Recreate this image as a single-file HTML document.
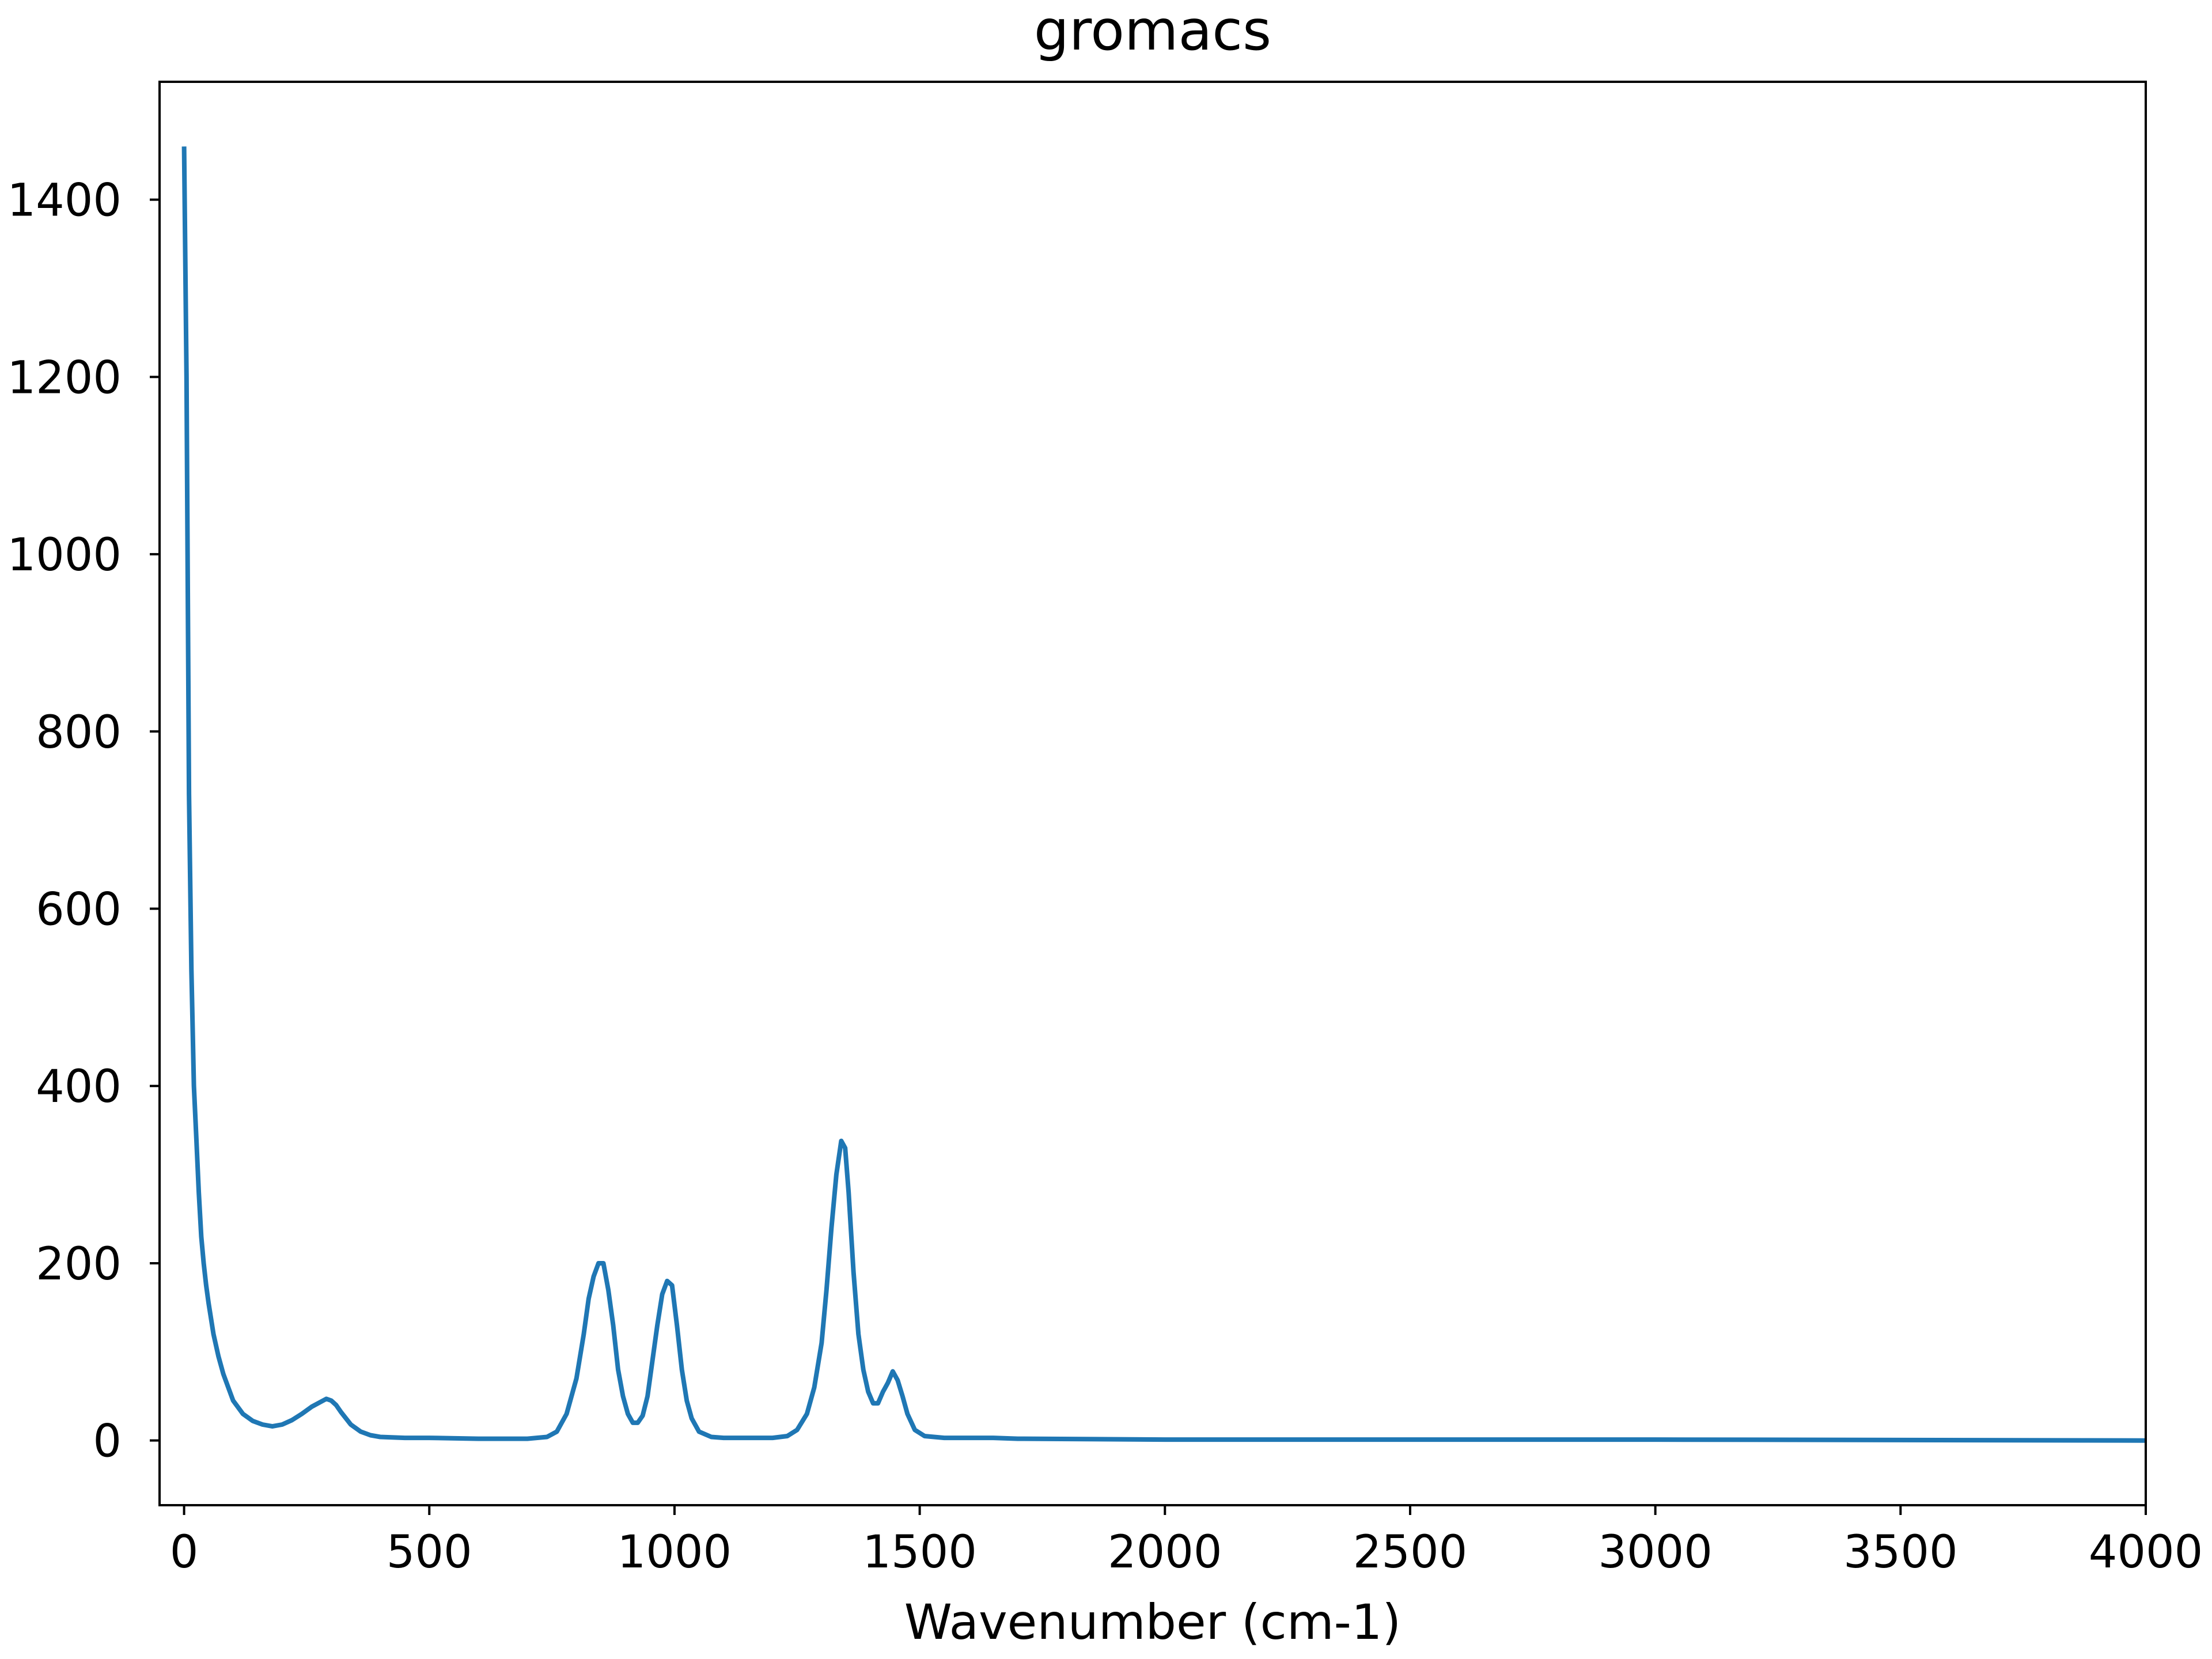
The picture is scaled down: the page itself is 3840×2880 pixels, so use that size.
<!DOCTYPE html>
<html><head><meta charset="utf-8"><style>
html,body{margin:0;padding:0;background:#fff}
svg{display:block}
text{font-family:"DejaVu Sans","Liberation Sans",sans-serif;fill:#000}
</style></head><body>
<svg id="chart" width="3840" height="2880" viewBox="0 0 3840 2880" xmlns="http://www.w3.org/2000/svg">
<rect x="0" y="0" width="3840" height="2880" fill="#fff"/>
<text x="2001" y="86" font-size="96" text-anchor="middle">gromacs</text>
<g id="xt"></g>
<g id="yt"></g>
<path id="line" fill="none" stroke="#1f77b4" stroke-width="8" stroke-linejoin="round"/>
<rect x="277" y="142" width="3448" height="2471" fill="none" stroke="#000" stroke-width="4"/>
<text x="2001" y="2845" font-size="84" text-anchor="middle">Wavenumber (cm-1)</text>
</svg>
<script>
const wavenumbers=[0,5,10,15,20,25,30,35,40,45,50,60,70,80,90,100,120,140,160,180,200,220,240,260,280,290,300,310,320,340,360,380,400,450,500,600,700,740,760,780,800,815,825,835,845,855,865,875,885,895,905,915,925,935,945,955,965,975,985,995,1005,1015,1025,1035,1050,1075,1100,1200,1230,1250,1270,1285,1300,1310,1320,1330,1340,1348,1355,1365,1375,1385,1395,1405,1415,1425,1435,1445,1455,1465,1475,1490,1510,1550,1650,1700,2000,3000,4000];
const intensity=[1460,1200,730,530,400,340,280,230,200,175,155,120,95,75,60,45,30,22,18,16,18,23,30,38,44,47,45,40,32,18,10,6,4,3,3,2,2,4,10,30,70,120,160,185,200,200,170,130,80,50,30,20,20,28,50,90,130,165,180,175,130,80,45,25,10,4,3,3,5,12,30,60,110,170,240,300,338,330,280,190,120,80,55,42,42,55,65,78,68,50,30,12,5,3,3,2,1,1,0];
const xTicks=[0,500,1000,1500,2000,2500,3000,3500,4000];
const yTicks=[0,200,400,600,800,1000,1200,1400];
const L=277,R=3725,T=142,B=2613;
const xmin=-50,xmax=4000,ymin=-73,ymax=1533;
const sx=v=>L+(v-xmin)/(xmax-xmin)*(R-L);
const sy=v=>B-(v-ymin)/(ymax-ymin)*(B-T);
const NS="http://www.w3.org/2000/svg";
let d="";
wavenumbers.forEach((w,i)=>{d+=(i?"L":"M")+sx(w).toFixed(1)+","+sy(intensity[i]).toFixed(1);});
document.getElementById('line').setAttribute('d',d);
const xg=document.getElementById('xt'),yg=document.getElementById('yt');
xTicks.forEach(t=>{
 const l=document.createElementNS(NS,'line');
 l.setAttribute('x1',sx(t));l.setAttribute('x2',sx(t));l.setAttribute('y1',B);l.setAttribute('y2',B+17);
 l.setAttribute('stroke','#000');l.setAttribute('stroke-width','4');
 
 
 xg.appendChild(l);
 const tx=document.createElementNS(NS,'text');
 tx.setAttribute('x',sx(t));tx.setAttribute('y',B+108);tx.setAttribute('font-size','78');tx.setAttribute('text-anchor','middle');
 tx.textContent=t;
 
 
 xg.appendChild(tx);
});
yTicks.forEach(t=>{
 const l=document.createElementNS(NS,'line');
 l.setAttribute('x1',L-17);l.setAttribute('x2',L);l.setAttribute('y1',sy(t));l.setAttribute('y2',sy(t));
 l.setAttribute('stroke','#000');l.setAttribute('stroke-width','4');
 
 
 yg.appendChild(l);
 const tx=document.createElementNS(NS,'text');
 tx.setAttribute('x',L-66);tx.setAttribute('y',sy(t)+28);tx.setAttribute('font-size','78');tx.setAttribute('text-anchor','end');
 tx.textContent=t;
 
 
 yg.appendChild(tx);
});
</script>
</body></html>
